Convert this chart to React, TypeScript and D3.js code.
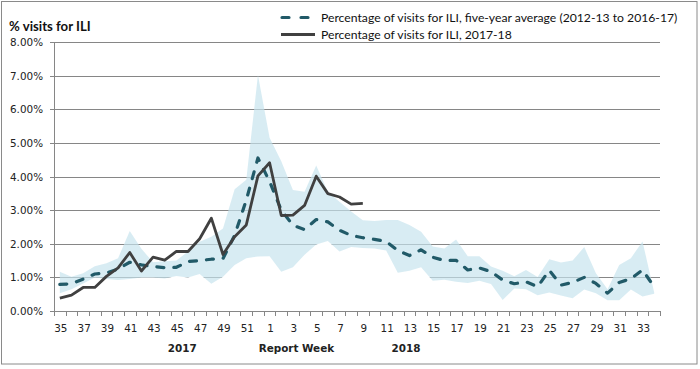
import React from "react";
import * as d3 from "d3";

// weeks 35..52 of 2017, then 1..34 of 2018
const weeks = [
  35, 36, 37, 38, 39, 40, 41, 42, 43, 44, 45, 46, 47, 48, 49, 50, 51, 52,
  1, 2, 3, 4, 5, 6, 7, 8, 9, 10, 11, 12, 13, 14, 15, 16, 17, 18, 19, 20,
  21, 22, 23, 24, 25, 26, 27, 28, 29, 30, 31, 32, 33, 34,
];

// % visits, 2017-18 season (reported up to week 9)
const current = [
  0.38, 0.47, 0.7, 0.7, 1.03, 1.28, 1.74, 1.19, 1.6, 1.51, 1.77, 1.77, 2.15,
  2.76, 1.68, 2.21, 2.56, 4.02, 4.41, 2.84, 2.85, 3.14, 4.01, 3.49, 3.39,
  3.18, 3.2,
];

// five-year average 2012-13 to 2016-17
const fiveYearAvg = [
  0.79, 0.81, 0.95, 1.1, 1.13, 1.25, 1.45, 1.37, 1.32, 1.29, 1.3, 1.47, 1.5,
  1.54, 1.56, 2.25, 3.3, 4.55, 3.85, 3.0, 2.55, 2.42, 2.72, 2.65, 2.4, 2.25,
  2.18, 2.13, 2.07, 1.8, 1.65, 1.82, 1.6, 1.5, 1.51, 1.22, 1.28, 1.17, 0.92,
  0.81, 0.87, 0.72, 1.21, 0.77, 0.85, 1.0, 0.82, 0.53, 0.85, 0.96, 1.22, 0.72,
];

// min / max of the five seasons (shaded range)
const rangeMax = [
  1.17, 1.02, 1.12, 1.33, 1.42, 1.57, 2.38, 1.85, 1.45, 1.48, 1.5, 1.77, 2.06,
  2.21, 2.45, 3.62, 3.9, 7.02, 5.15, 4.45, 3.6, 3.55, 4.33, 3.55, 3.25, 2.96,
  2.7, 2.68, 2.71, 2.71, 2.56, 2.36, 1.92, 1.86, 2.13, 1.63, 1.63, 1.32, 1.2,
  1.03, 1.22, 1.01, 1.54, 1.44, 1.5, 1.9, 1.12, 0.65, 1.37, 1.57, 2.07, 0.55,
];
const rangeMin = [
  0.53, 0.65, 0.82, 1.0, 0.95, 0.92, 0.95, 1.0, 1.0, 0.97, 1.04, 1.0, 1.1,
  0.81, 1.02, 1.37, 1.57, 1.62, 1.63, 1.17, 1.3, 1.67, 1.98, 2.08, 1.77, 1.9,
  1.87, 1.86, 1.8, 1.14, 1.2, 1.3, 0.9, 0.93, 0.87, 0.83, 0.9, 0.8, 0.33,
  0.67, 0.65, 0.47, 0.55, 0.46, 0.38, 0.64, 0.53, 0.32, 0.32, 0.64, 0.43, 0.51,
];

const yTicks = [0, 1, 2, 3, 4, 5, 6, 7, 8];

const legendItems = [
  "Percentage of visits for ILI, five-year average (2012-13 to 2016-17)",
  "Percentage of visits for ILI, 2017-18",
];

const width = 700;
const height = 369;
const marginLeft = 54;
const marginRight = 40;
const marginTop = 42;
const marginBottom = 58;

const GRID = "#868686";
const TEAL = "#215a68";
const DARK = "#404040";
const AXIS_FONT = "'DejaVu Sans', Verdana, sans-serif";
const LEGEND_FONT = "Lato, 'Open Sans', sans-serif";

export default function App() {
  const idx = weeks.map((_, i) => i);
  const x = d3
    .scaleBand<number>()
    .domain(idx)
    .range([marginLeft, width - marginRight])
    .paddingInner(0)
    .paddingOuter(0);
  const bw = x.bandwidth();
  const cx = (i: number) => marginLeft + bw * (i + 0.5);
  const y = d3.scaleLinear([0, 8], [height - marginBottom, marginTop]);

  const lowFill = d3
    .area<number>()
    .x((i) => cx(i))
    .y0(y(0))
    .y1((i) => y(rangeMin[i]));
  const band = d3
    .area<number>()
    .x((i) => cx(i))
    .y0((i) => y(rangeMin[i]))
    .y1((i) => y(rangeMax[i]));
  const line = d3
    .line<number>()
    .x((d, i) => cx(i))
    .y((d) => y(d));

  const x0 = marginLeft;
  const x1 = width - marginRight;
  const yBase = y(0);

  return (
    <div style={{ position: "fixed", left: 0, top: 0 }}>
      <svg width={width} height={height} style={{ display: "block", background: "#fff" }}>
        <rect x={1.5} y={1.5} width={695.5} height={362.5} fill="#fff" stroke="#8a8a8a" strokeWidth={1} />

        {/* gridlines */}
        <g stroke={GRID} strokeWidth={1}>
          {yTicks.slice(1).map((t) => (
            <line key={t} x1={x0} x2={x1} y1={Math.round(y(t)) + 0.5} y2={Math.round(y(t)) + 0.5} />
          ))}
        </g>

        {/* shaded min-max range, white below it hides the grid */}
        <path d={lowFill(idx)!} fill="#fff" />
        <path d={band(idx)!} fill="#c6e3ee" fillOpacity={0.68} />

        {/* axes */}
        <g stroke={GRID} strokeWidth={1} shapeRendering="crispEdges">
          <line x1={x0 + 0.5} x2={x0 + 0.5} y1={y(8)} y2={yBase} />
          <line x1={x0} x2={x1} y1={Math.round(yBase) + 0.5} y2={Math.round(yBase) + 0.5} />
          {yTicks.map((t) => (
            <line key={t} x1={x0 - 4} x2={x0} y1={Math.round(y(t)) + 0.5} y2={Math.round(y(t)) + 0.5} />
          ))}
          {[...idx, idx.length].map((i) => (
            <line key={i} x1={Math.round(x0 + bw * i) + 0.5} x2={Math.round(x0 + bw * i) + 0.5} y1={yBase} y2={yBase + 5} />
          ))}
        </g>

        <g fontFamily={AXIS_FONT} fontSize={10.4} fill="#222">
          {yTicks.map((t) => (
            <text key={t} x={43} y={y(t) + 4}
              textAnchor="end">
              {t.toFixed(2)}%
            </text>
          ))}
          {idx.filter((i) => i % 2 === 0).map((i) => (
            <text key={i} x={cx(i) + 1} y={332} textAnchor="middle">
              {weeks[i]}
            </text>
          ))}
          <g fontWeight="bold">
            <text x={cx(10.5)} y={352} textAnchor="middle">2017</text>
            <text x={cx(20.3)} y={352} textAnchor="middle">Report Week</text>
            <text x={cx(29.7)} y={352} textAnchor="middle">2018</text>
          </g>
        </g>

        {/* series */}
        <path d={line(fiveYearAvg)!} fill="none" stroke={TEAL} strokeWidth={3.2}
          strokeDasharray="7 10" strokeLinecap="round" strokeLinejoin="round" />
        <path d={line(current)!} fill="none" stroke={DARK} strokeWidth={2.8} strokeLinejoin="round" />

        {/* title */}
        <text x={9} y={31} fontFamily={LEGEND_FONT} fontWeight="bold" fontSize={13.2} fill="#111">
          % visits for ILI
        </text>

        {/* legend */}
        <g fontFamily={LEGEND_FONT} fontSize={12.2} fill="#111">
          <line x1={282} x2={314} y1={17.5} y2={17.5} stroke={TEAL} strokeWidth={3.2} strokeDasharray="7 12" strokeLinecap="round" />
          <text x={321} y={21.5}>{legendItems[0]}</text>
          <line x1={281} x2={315} y1={34.5} y2={34.5} stroke={DARK} strokeWidth={2.8} />
          <text x={321} y={38.5}>{legendItems[1]}</text>
        </g>
      </svg>
    </div>
  );
}
